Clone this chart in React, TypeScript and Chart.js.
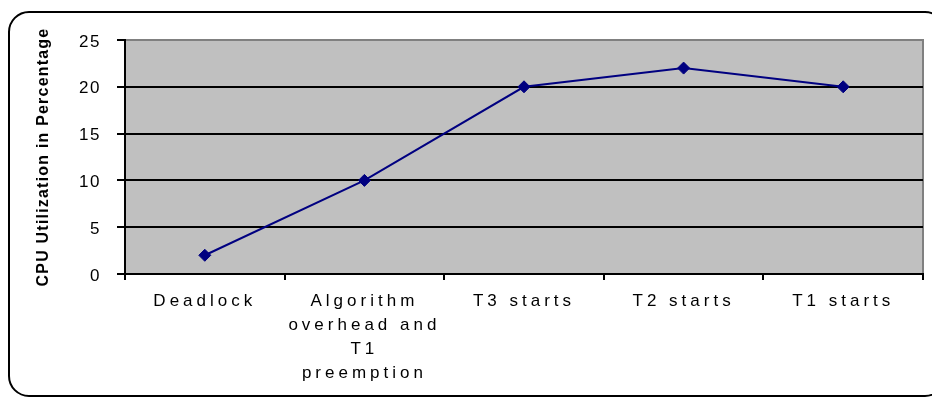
import React, { useEffect, useRef } from "react";
import { Chart, registerables } from "chart.js";

Chart.register(...registerables);

// Stages of the scenario along the x axis
const categories: (string | string[])[] = [
  "Deadlock",
  ["Algorithm", "overhead and", "T1", "preemption"],
  "T3 starts",
  "T2 starts",
  "T1 starts",
];

// CPU utilization (%) at each stage
const cpuUtilization = [2, 10, 20, 22, 20];

const yAxisTitle = "CPU Utilization in Percentage";
const yMin = 0;
const yMax = 25;
const yStep = 5;

const FONT = "'Liberation Sans', Arial, sans-serif";

// Wraps a scale's label/title drawing so that text is drawn with letter spacing
function withSpacing(scale: any, method: string, spacing: string) {
  const original = scale[method];
  scale[method] = function (...args: any[]) {
    const ctx = this.ctx as any;
    const prev = ctx.letterSpacing;
    ctx.letterSpacing = spacing;
    original.apply(this, args);
    ctx.letterSpacing = prev ?? "0px";
  };
}

const framePlugin = {
  id: "frame",
  beforeDraw(chart: any) {
    if (!chart.$spacingPatched) {
      chart.$spacingPatched = true;
      withSpacing(chart.scales.x, "drawLabels", "4px");
      withSpacing(chart.scales.y, "drawLabels", "1.5px");
      withSpacing(chart.scales.y, "drawTitle", "1.2px");
    }
    const { ctx, chartArea } = chart;
    const { left, top, right, bottom } = chartArea;
    ctx.save();
    ctx.fillStyle = "#C0C0C0";
    ctx.fillRect(left, top, right - left, bottom - top);
    ctx.strokeStyle = "#808080";
    ctx.lineWidth = 2;
    ctx.strokeRect(left, top, right - left, bottom - top);
    ctx.restore();
  },
  afterDraw(chart: any) {
    const { ctx } = chart;
    ctx.save();
    ctx.strokeStyle = "#000000";
    ctx.lineWidth = 2;
    ctx.beginPath();
    ctx.roundRect(9, 12, 936, 384, 20);
    ctx.stroke();
    ctx.restore();
  },
};

export default function App() {
  const canvasRef = useRef<HTMLCanvasElement | null>(null);

  useEffect(() => {
    document.body.style.margin = "0";
    const canvas = canvasRef.current;
    if (!canvas) return;

    const chart = new Chart(canvas, {
      type: "line",
      data: {
        labels: categories,
        datasets: [
          {
            data: cpuUtilization,
            borderColor: "#000080",
            backgroundColor: "#000080",
            borderWidth: 2,
            pointStyle: "rectRot",
            pointRadius: 6,
            pointBorderWidth: 1,
            pointBackgroundColor: "#000080",
            pointBorderColor: "#000080",
            tension: 0,
            fill: false,
          },
        ],
      },
      options: {
        animation: false,
        responsive: false,
        devicePixelRatio: 1,
        layout: { padding: { left: 30, right: 9, top: 40, bottom: 0 } },
        plugins: {
          legend: { display: false },
          tooltip: { enabled: false },
          title: { display: false },
        },
        scales: {
          x: {
            type: "category",
            offset: true,
            afterFit(scale: any) {
              scale.height = 125;
            },
            grid: {
              offset: true,
              drawOnChartArea: false,
              drawTicks: true,
              tickLength: 6,
              color: "#000000",
              tickColor: "#000000",
              lineWidth: 2,
            },
            border: { display: true, color: "#000000", width: 2 },
            ticks: {
              autoSkip: false,
              maxRotation: 0,
              minRotation: 0,
              padding: 9,
              color: "#000000",
              font: { family: FONT, size: 17, lineHeight: 1.42 },
            },
          },
          y: {
            min: yMin,
            max: yMax,
            afterFit(scale: any) {
              scale.width = 95;
            },
            grid: {
              drawTicks: true,
              tickLength: 8,
              lineWidth: 2,
              color: (c: any) => (c.tick && c.tick.value === yMax ? "#808080" : "#000000"),
              tickColor: "#000000",
            },
            border: { display: true, color: "#000000", width: 2 },
            ticks: {
              stepSize: yStep,
              padding: 16,
              labelOffset: 2,
              color: "#000000",
              font: { family: FONT, size: 17 },
            },
            title: {
              display: true,
              text: yAxisTitle,
              color: "#000000",
              font: { family: FONT, size: 16, weight: "bold" },
              padding: { top: 4, bottom: 4 },
            },
          },
        },
      },
      plugins: [framePlugin],
    });

    return () => chart.destroy();
  }, []);

  return (
    <canvas
      ref={canvasRef}
      width={932}
      height={399}
      style={{ display: "block", width: 932, height: 399 }}
    />
  );
}
